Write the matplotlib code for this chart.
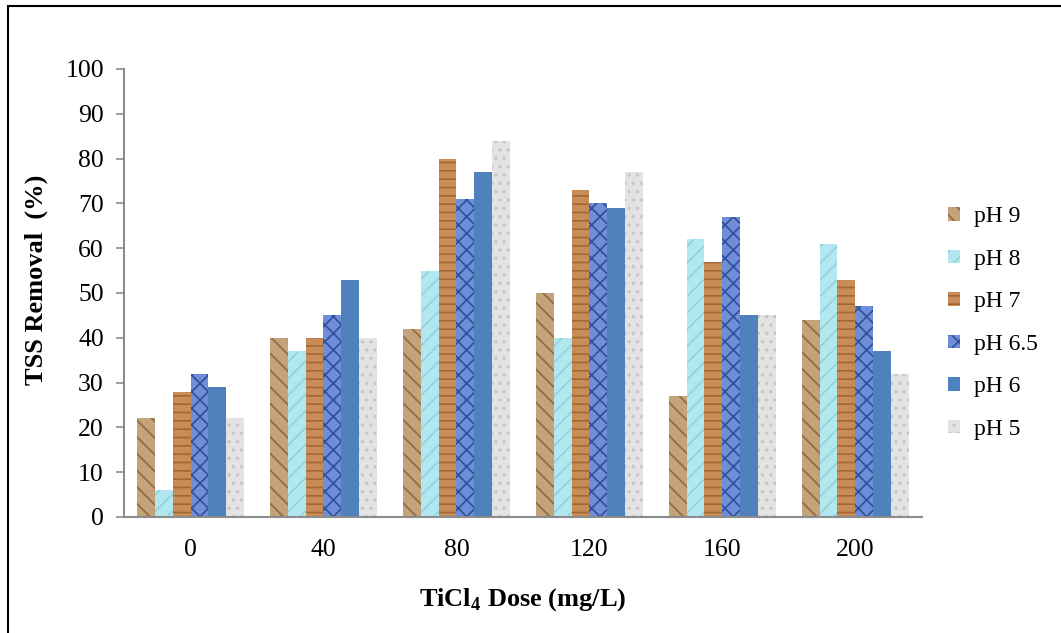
import numpy as np
import matplotlib
matplotlib.use("Agg")
import matplotlib.pyplot as plt
from matplotlib.patches import Patch, Rectangle

plt.rcParams['font.family'] = ['Liberation Serif', 'DejaVu Serif']
plt.rcParams['mathtext.fontset'] = 'custom'
plt.rcParams['mathtext.rm'] = 'Liberation Serif'
plt.rcParams['mathtext.bf'] = 'Liberation Serif:bold'
plt.rcParams['hatch.linewidth'] = 1.2

doses = ['0', '40', '80', '120', '160', '200']
series = ['pH 9', 'pH 8', 'pH 7', 'pH 6.5', 'pH 6', 'pH 5']
ph9 = [22, 40, 42, 50, 27, 44]
ph8 = [6, 37, 55, 40, 62, 61]
ph7 = [28, 40, 80, 73, 57, 53]
ph65 = [32, 45, 71, 70, 67, 47]
ph6 = [29, 53, 77, 69, 45, 37]
ph5 = [22, 40, 84, 77, 45, 32]
values = [ph9, ph8, ph7, ph65, ph6, ph5]

# face colour, hatch, hatch colour for each series
styles = [
    ('#c4a27a', '\\\\', '#8f6a44'),
    ('#b2e7ef', '//', '#93d3de'),
    ('#c98c57', '--', '#a06838'),
    ('#6e8fd8', 'xx', '#2f4f9c'),
    ('#4f81bd', '', '#4f81bd'),
    ('#e3e3e3', '..', '#c6c6c6'),
]

fig = plt.figure(figsize=(10.61, 6.33), dpi=100)
ax = fig.add_axes([0.1169, 0.1833, 0.752, 0.7077])

x = np.arange(len(doses))
width = 0.135
for i, (vals, (fc, hatch, hc)) in enumerate(zip(values, styles)):
    pos = x + (i - 2.5) * width
    ax.bar(pos, vals, width, color=fc, linewidth=0)
    if hatch:
        ax.bar(pos, vals, width, facecolor='none', edgecolor=hc, hatch=hatch, linewidth=0)

ax.set_xlim(-0.5, 5.5)
ax.set_ylim(0, 100)
ax.set_yticks(range(0, 101, 10))
ax.set_xticks(x)
ax.set_xticklabels(doses)

for side in ['top', 'right']:
    ax.spines[side].set_visible(False)
for side in ['left', 'bottom']:
    ax.spines[side].set_color('#8c8c8c')
    ax.spines[side].set_linewidth(1.5)
ax.tick_params(axis='y', direction='out', length=5.5, width=1.2, color='#8c8c8c',
               labelsize=18.5, pad=9)
ax.tick_params(axis='x', length=0, labelsize=18.5, pad=16)

ax.set_ylabel('TSS Removal  (%)', fontsize=19, fontweight='bold')
ax.yaxis.set_label_coords(-0.095, 0.529)
ax.set_xlabel(r'TiCl$_\mathbf{4}$ Dose (mg/L)', fontsize=19, fontweight='bold', labelpad=18)

handles = [Patch(facecolor=fc, edgecolor=hc if hatch else fc, hatch=hatch, linewidth=0)
           for fc, hatch, hc in styles]
fig.legend(handles, series, loc='upper left', bbox_to_anchor=(0.8845, 0.689),
           frameon=False, fontsize=17, handlelength=0.5, handleheight=0.5,
           handletextpad=0.6, labelspacing=0.91, borderaxespad=0)

# outer frame
fig.patches.append(Rectangle((8 / 1061, -0.05), 1.1, 1 - 6 / 633 + 0.05,
                             transform=fig.transFigure, fill=False,
                             edgecolor='black', linewidth=1.5))

fig.savefig('out.png', dpi=100)
